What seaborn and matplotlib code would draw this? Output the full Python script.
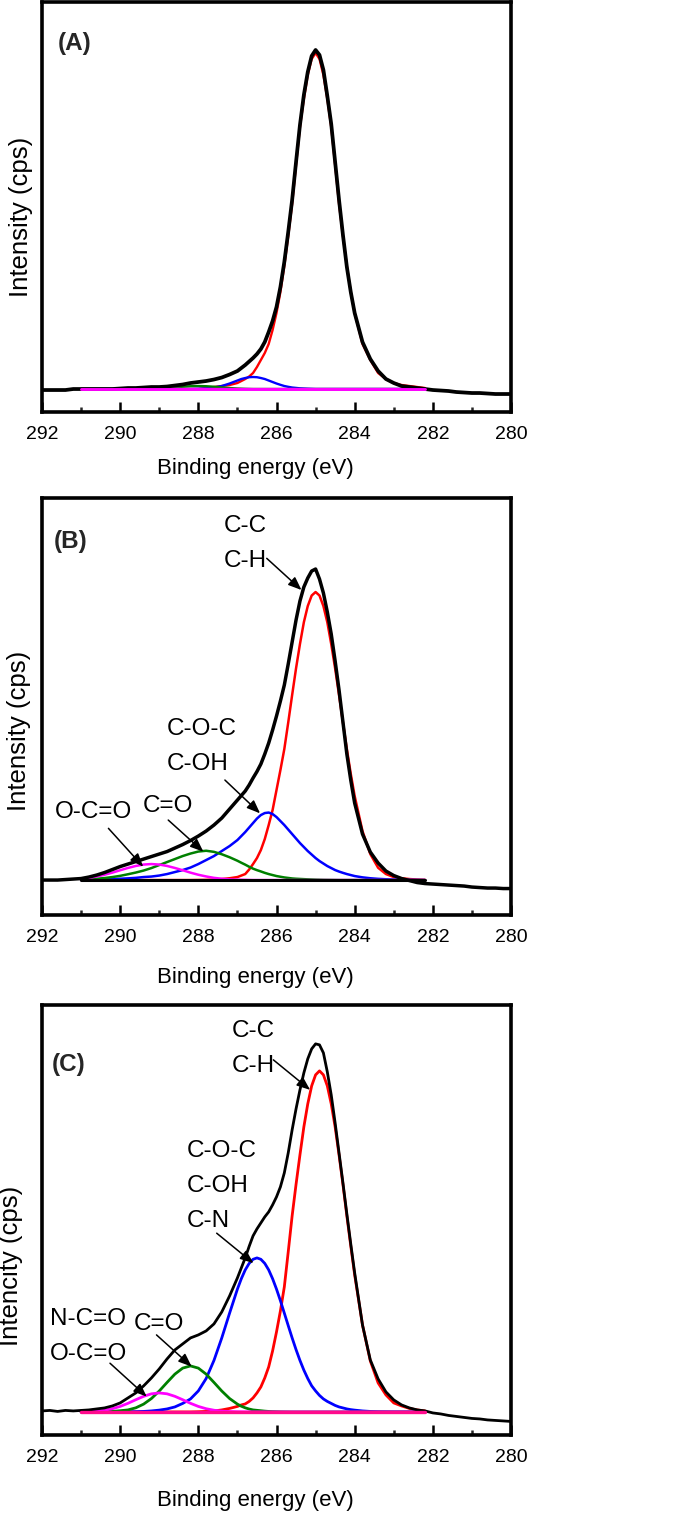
import matplotlib
matplotlib.use("Agg")
import matplotlib.pyplot as plt
from matplotlib.ticker import MultipleLocator
import numpy as np
import seaborn as sns

sns.set_theme(style="white")
plt.rcParams["font.family"] = ["Liberation Sans", "DejaVu Sans"]

# binding energy grids (eV): measured scan, and the range of the fitted peaks
# (finer step of 0.1 eV across the main peak)
energy = np.concatenate([np.linspace(292.0, 287.2, 25), np.linspace(287.0, 284.0, 31),
                         np.linspace(283.8, 280.0, 20)])
comp_energy = np.concatenate([np.linspace(291.0, 287.2, 20), np.linspace(287.0, 284.0, 31),
                              np.linspace(283.8, 282.2, 9)])

# ---------------- (A) ----------------
raw_a = ([22, 22, 22, 22, 23, 23, 23, 23, 23, 23, 23.5, 24, 24, 24.5, 25, 25, 25.5, 26.5,
          27.5, 29, 30, 31, 32.5, 34.5, 37.5]
         + [41, 44, 47, 50.5, 54, 58, 63, 70, 80, 91, 105, 125, 150, 180, 212, 250, 287, 317,
            340, 356, 362, 357, 342, 316, 288, 250, 212, 177, 145, 120, 99]
         + [70, 53, 41, 33, 29, 26, 25, 24, 23, 22, 21.5, 21, 20, 19.5, 19, 19, 18.5, 18, 18, 18])
base_a = 23
cc_a = ([0] * 16 + [1, 2, 3, 4]
        + [6, 8, 10, 12.5, 16, 22, 29, 36, 45, 59, 76, 97, 123, 153, 185, 224, 262, 290, 314,
           330, 336, 330, 314, 290, 262, 224, 185, 153, 123, 97, 76]
        + [45, 29, 16, 10, 6, 4, 3, 2, 1])
coc_a = ([0] * 15 + [0.3, 0.7, 1.5, 3, 5.5]
         + [8.5, 10, 11, 11.8, 12, 11.8, 11, 10, 8.5, 7, 5.5, 4.2, 3, 2.2, 1.5, 1.1, 0.7, 0.5,
            0.3, 0.15] + [0] * 11
         + [0] * 9)
co_a = ([0] * 9 + [0.2, 0.5, 1, 1.6, 2.3, 2.8, 3, 2.8, 2.3, 1.6, 1]
        + [0.5, 0.35, 0.2, 0.1] + [0] * 27
        + [0] * 9)
occo_a = ([0] * 6 + [0.2, 0.5, 0.8, 1, 0.8, 0.5, 0.2] + [0] * 7
          + [0] * 31
          + [0] * 9)

# ---------------- (B) ----------------
raw_b = ([35, 35, 35, 35.5, 36, 36.5, 38, 40, 42.5, 45.5, 48.5, 51, 53.5, 56, 58.5, 61, 63.5,
          67, 70.5, 74.5, 79, 84, 90, 97, 106]
         + [115, 119.5, 124, 130, 137, 143.5, 151, 161, 172, 185, 199, 214, 230, 251, 273, 295,
            314, 328, 337, 344, 346, 336, 322, 303, 281, 254, 225, 193, 161, 135, 112]
         + [81, 63, 52, 44, 39.5, 36.5, 34.5, 32.5, 31.5, 31, 30.5, 30, 29.5, 29, 28, 27.5, 27,
            27, 26.5, 26.5])
base_b = 35
cc_b = ([0] * 15 + [0.1, 0.2, 0.5, 1, 1.8]
        + [3, 4.5, 6, 10.5, 16, 22, 30, 41, 55, 70, 90, 110, 131, 157.5, 185, 211.7, 236, 257.8,
           274, 284.5, 288, 284.5, 274, 257.8, 236, 211.7, 185, 157.5, 131, 106.2, 84]
        + [49, 26, 12.3, 6, 3, 1.8, 1, 0.5, 0.2])
coc_b = ([0, 0.3, 0.5, 0.7, 1, 1.3, 1.7, 2.2, 3, 3.5, 4.5, 6, 8, 10, 12.5, 16, 20, 24, 29, 34]
         + [40, 44, 48, 52.5, 57, 61.5, 65, 67, 67.5, 66, 63, 59, 55, 50.5, 46, 41.5, 37, 33,
            29, 25.5, 22, 19, 16.5, 14, 12, 10, 8.5, 7.2, 6, 5, 4]
         + [2.7, 1.8, 1.2, 0.8, 0.5, 0.3, 0.2, 0.1, 0])
co_b = ([0.5, 0.8, 1.3, 2, 3, 4.2, 5.8, 7.5, 9.5, 12, 15, 18, 21, 24, 26.5, 28.5, 29.3, 28.2,
         25.8, 22.8]
        + [19.3, 17.3, 15.4, 13.3, 11.4, 9.9, 8.6, 7.2, 6, 5, 4, 3.3, 2.6, 2.1, 1.6, 1.3, 1.1,
           0.9, 0.7, 0.55, 0.4, 0.3, 0.2, 0.15, 0.1, 0.05] + [0] * 5
        + [0] * 9)
occo_b = ([1.3, 2.2, 3.6, 5.3, 7.4, 9.8, 12.1, 14.1, 15.5, 16, 15.5, 14.1, 12.1, 9.8, 7.4, 5.3,
           3.6, 2.2, 1.3, 0.7]
          + [0.4, 0.3, 0.2, 0.1] + [0] * 27
          + [0] * 9)

# ---------------- (C) ----------------
raw_c = ([24, 24.5, 23.5, 24.5, 24, 24.5, 25, 26, 27, 29, 32, 37, 42, 49, 57, 66, 76, 85, 91,
          97, 100, 104, 111, 123, 139]
         + [157, 167, 177, 188.5, 199, 206, 212, 218, 223, 230, 238, 248, 262, 282, 305, 326,
            345, 362, 376, 386, 391, 390, 382, 363, 340, 312, 282, 252, 221, 191, 162]
         + [110, 75, 56, 43, 35, 30, 27, 25, 24, 22, 21, 19.5, 18.5, 17.5, 16.5, 16, 15, 14.5,
            14, 13.5])
base_c = 23
cc_c = ([0] * 15 + [0.2, 0.5, 1, 2, 3.5]
        + [5.5, 7, 8, 10.5, 14, 19, 25, 34, 45, 61, 80, 101, 125, 160, 196, 227.5, 257, 285,
           308, 326, 337, 341, 337, 326, 308, 285, 257, 227.5, 196, 166, 137]
        + [87, 51, 29, 17, 9, 6, 3.5, 2, 1])
coc_c = ([0] * 6 + [0.1, 0.2, 0.5, 1, 1.8, 3, 5, 8.5, 13, 21, 33.4, 51.5, 74, 98.8]
         + [122.8, 133.2, 142, 148.5, 152.6, 154, 152.6, 148.5, 142, 133.2, 122.8, 111.2, 98.8,
            86.3, 74, 62.3, 51.5, 41.8, 33.4, 26.1, 21, 16.5, 13, 10.5, 8.5, 6.5, 5, 4, 3, 2.3,
            1.8]
         + [1, 0.5, 0.2, 0.1, 0, 0, 0, 0, 0])
co_c = ([0, 0, 0.1, 0.25, 0.5, 1.2, 2, 4.1, 7.8, 13.4, 20.9, 29.5, 37.8, 43.8, 46, 43.8, 37.8,
         29.5, 20.9, 13.4]
        + [7.8, 5.7, 4.1, 2.9, 2, 1.6, 1.2, 0.8, 0.5, 0.35, 0.25, 0.15, 0.1, 0.05] + [0] * 17
        + [0] * 9)
occo_c = ([0.2, 0.4, 0.8, 1.7, 3.2, 5.5, 8.6, 12.2, 15.6, 18.1, 19, 18.1, 15.6, 12.2, 8.6, 5.5,
           3.2, 1.7, 0.8, 0.4]
          + [0.2, 0.15, 0.1, 0.05] + [0] * 27
          + [0] * 9)

comp_colors = ["#ff0000", "#0000ff", "#008000", "#ff00ff"]

fig = plt.figure(figsize=(6.85, 15.17), dpi=100)
ax_a = fig.add_axes([0.0613, 0.7284, 0.6847, 0.2703])
ax_b = fig.add_axes([0.0613, 0.3968, 0.6847, 0.2749])
ax_c = fig.add_axes([0.0613, 0.0541, 0.6847, 0.2835])


def draw_panel(ax, raw, base, comps, base_color, raw_lw, comp_lw, top, tag, ylabel,
               ylab_xy, xlab_y):
    for comp, col in zip(comps, comp_colors):
        sns.lineplot(x=comp_energy, y=base + np.array(comp), ax=ax, color=col,
                     linewidth=comp_lw, sort=False, errorbar=None)
    sns.lineplot(x=energy, y=raw, ax=ax, color="black", linewidth=raw_lw,
                 sort=False, errorbar=None)
    sns.lineplot(x=comp_energy, y=np.full(len(comp_energy), base), ax=ax,
                 color=base_color, linewidth=comp_lw + 0.4, sort=False, errorbar=None)
    for ln in ax.lines:
        ln.set_solid_joinstyle("round")
    ax.set_xlim(292, 280)
    ax.set_ylim(0, top)
    ax.set_yticks([])
    ax.xaxis.set_major_locator(MultipleLocator(2))
    ax.xaxis.set_minor_locator(MultipleLocator(1))
    ax.tick_params(axis="x", which="major", direction="in", length=7, width=1.8,
                   pad=10, labelsize=14, bottom=True, top=False, colors="black")
    ax.tick_params(axis="x", which="minor", direction="in", length=3.5, width=1.8,
                   bottom=True, top=False)
    for s in ax.spines.values():
        s.set_linewidth(2.6)
        s.set_color("black")
    ax.set_xlabel("Binding energy (eV)", fontsize=16, color="black")
    ax.xaxis.set_label_coords(0.454, xlab_y)
    ax.set_ylabel(ylabel, fontsize=18.5, color="black")
    ax.yaxis.set_label_coords(*ylab_xy)
    ax.text(tag[1], tag[2], tag[0], fontsize=17.5, fontweight="bold", ha="left",
            va="baseline")


def label(ax, txt, x, y):
    ax.text(x, y, txt, fontsize=17.5, ha="left", va="baseline", color="black")


def arrow(ax, start, tip):
    ax.annotate("", xy=tip, xytext=start,
                arrowprops=dict(arrowstyle="-|>,head_length=0.5,head_width=0.2",
                                mutation_scale=16, color="black", lw=1.1,
                                shrinkA=0, shrinkB=0))


draw_panel(ax_a, raw_a, base_a, [cc_a, coc_a, co_a, occo_a], "#ff00ff", 2.7, 1.7,
           410, ("(A)", 291.59, 362), "Intensity (cps)", (-0.02, 0.476), -0.112)

draw_panel(ax_b, raw_b, base_b, [cc_b, coc_b, co_b, occo_b], "black", 2.5, 1.8,
           417, ("(B)", 291.71, 366.7), "Intensity (cps)", (-0.024, 0.441), -0.124)
label(ax_b, "C-C", 287.34, 383)
label(ax_b, "C-H", 287.34, 348)
arrow(ax_b, (286.25, 356.7), (285.36, 325))
label(ax_b, "C-O-C", 288.81, 180)
label(ax_b, "C-OH", 288.81, 145)
arrow(ax_b, (287.32, 135), (286.42, 101.7))
label(ax_b, "C=O", 289.42, 103.3)
arrow(ax_b, (288.77, 95), (287.87, 63.3))
label(ax_b, "O-C=O", 291.67, 97)
arrow(ax_b, (290.30, 86.7), (289.41, 48.3))

draw_panel(ax_c, raw_c, base_c, [cc_c, coc_c, co_c, occo_c], "#ff0a8c", 2.0, 2.0,
           430, ("(C)", 291.75, 364.3), "Intencity (cps)", (-0.041, 0.393), -0.128)
label(ax_c, "C-C", 287.14, 398.3)
label(ax_c, "C-H", 287.14, 363.3)
arrow(ax_c, (286.08, 375), (285.14, 345))
label(ax_c, "C-O-C", 288.30, 278.3)
label(ax_c, "C-OH", 288.30, 243.3)
label(ax_c, "C-N", 288.30, 208.3)
arrow(ax_c, (287.53, 201.7), (286.59, 171.7))
label(ax_c, "N-C=O", 291.80, 110)
label(ax_c, "O-C=O", 291.80, 75)
arrow(ax_c, (290.26, 71.7), (289.32, 38.3))
label(ax_c, "C=O", 289.66, 105)
arrow(ax_c, (289.07, 100), (288.17, 68.3))

fig.savefig("out.png", dpi=100)
